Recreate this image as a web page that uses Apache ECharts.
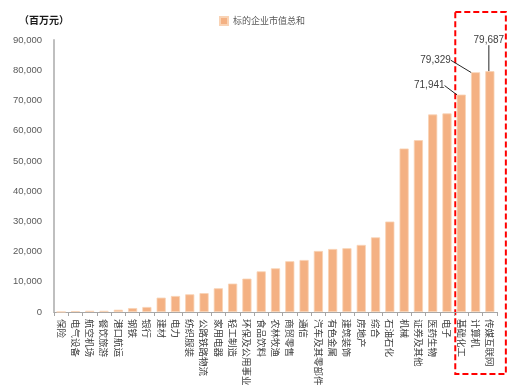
<!DOCTYPE html>
<html><head><meta charset="utf-8">
<script src="https://cdn.jsdelivr.net/npm/echarts@6/dist/echarts.min.js"></script>
<style>html,body{margin:0;padding:0;background:#fff}#c{width:525px;height:389px}</style>
</head><body><div id="c"></div>
<script>
var categories = ['保险','电气设备','航空机场','餐饮旅游','港口航运','钢铁','银行','建材','电力','纺织服装','公路铁路物流','家用电器','轻工制造','环保及公用事业','食品饮料','农林牧渔','商贸零售','通信','汽车及其零部件','有色金属','建筑装饰','房地产','综合','石油石化','机械','证券及其他','医药生物','电子','基础化工','计算机','传媒互联网'];
var values = [50,300,400,400,750,1300,1650,4750,5300,5850,6250,7850,9400,11050,13450,14450,16800,17200,20200,20850,21100,22200,24700,29930,54100,56850,65360,65700,71941,79329,79687];
var yTicks = [0,10000,20000,30000,40000,50000,60000,70000,80000,90000];
var seriesName = '标的企业市值总和';
var labelled = [28,29,30];

var font = '"Noto Sans CJK SC","Liberation Sans",sans-serif';
var chart = echarts.init(document.getElementById('c'));
var data = values.map(function(v,i){
  var item = {value:v};
  if (labelled.indexOf(i) >= 0) {
    item.label = {show:true, position:'top', formatter:function(p){return p.value.toLocaleString('en-US');}, color:'#404040', fontSize:10, fontFamily:'"Liberation Sans",sans-serif'};
    item.labelLine = {show:true, lineStyle:{color:'#262626', width:1}};
  }
  return item;
});
chart.setOption({
  animation:false,
  textStyle:{fontFamily:font},
  title:{text:'（百万元）', left:14, top:10, textStyle:{fontSize:10, fontWeight:'bold', color:'#1a1a1a', fontFamily:font}},
  legend:{data:[seriesName], top:11, left:214, itemWidth:8, itemHeight:8, itemGap:4, icon:'rect', textStyle:{fontSize:9, color:'#595959', fontFamily:font}},
  grid:{left:54, right:28, top:40, bottom:77},
  xAxis:{type:'category', data:categories,
    axisLine:{lineStyle:{color:'#a6a6a6', width:1}},
    axisTick:{show:true, alignWithLabel:false, length:4, lineStyle:{color:'#a6a6a6'}},
    axisLabel:{rotate:-90, interval:0, fontSize:9.5, color:'#404040', margin:7, fontFamily:font}
  },
  yAxis:{type:'value', min:0, max:90000, interval:10000,
    axisLine:{show:true, lineStyle:{color:'#bfbfbf', width:2}},
    axisTick:{show:false}, splitLine:{show:false},
    axisLabel:{fontSize:9.5, color:'#595959', margin:12, fontFamily:'"Liberation Sans",sans-serif',
      formatter:function(v){return yTicks.indexOf(v)>=0 ? v.toLocaleString('en-US') : '';}}
  },
  series:[{name:seriesName, type:'bar', data:data, barCategoryGap:'36%',
    itemStyle:{color:'#F4B183', borderColor:'#f9d3b5', borderWidth:0.8},
    labelLayout:function(p){
      if (p.dataIndex===28) return {dx:-32, dy:1};
      if (p.dataIndex===29) return {dx:-40, dy:-2};
      if (p.dataIndex===30) return {dx:-1, dy:-21};
      return {};
    }
  }]
});
var x0 = chart.convertToPixel({xAxisIndex:0}, categories[28]);
var x1 = chart.convertToPixel({xAxisIndex:0}, categories[30]);
chart.setOption({graphic:[{type:'rect', shape:{x:x0-6, y:12, width:(x1-x0)+22, height:362},
  style:{fill:'none', stroke:'#ff0000', lineWidth:2, lineDash:[6,3]}}]});
</script></body></html>
